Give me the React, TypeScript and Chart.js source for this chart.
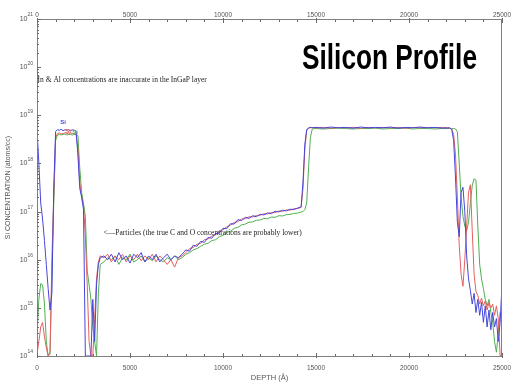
import React, { useEffect, useRef } from 'react';
import { Chart, registerables } from 'chart.js';

Chart.register(...registerables);

// Depth grid (Å)
const depth = [
  0, 100, 200, 300, 400, 500, 600, 700, 800, 900, 1000, 1100, 1200, 1300, 1400, 1500, 1600, 1700, 1800, 1900, 2000, 2100, 2200, 2300, 2400, 2500, 2600, 2700, 2800, 2900, 3000, 3100, 3200, 3300, 3400,
  3600, 3800, 4000, 4200, 4400, 4600, 4800, 5000, 5200, 5400, 5600, 5800, 6000, 6200, 6400, 6600, 6800, 7000, 7200, 7400, 7600,
  7800, 8000, 8200, 8400, 8600, 8800, 9000, 9200, 9400, 9600, 9800, 10000, 10200, 10400, 10600, 10800, 11000, 11200, 11400, 11600, 11800, 12000, 12200, 12400, 12600, 12800, 13000, 13200, 13400, 13600, 13800, 14000, 14200,
  14300, 14400, 14500, 14600, 14700, 14800, 14900,
  15000, 15400, 15800, 16200, 16600, 17000, 17400, 17800, 18200, 18600, 19000, 19400, 19800, 20200, 20600, 21000, 21400, 21800, 22200,
  22300, 22400, 22500, 22600, 22700, 22800, 22900, 23000, 23100, 23200, 23300, 23400, 23500, 23600, 23700, 23800, 23900, 24000, 24100, 24200, 24300, 24400, 24500, 24600, 24700, 24800, 24900, 25000,
];

// Si concentration (atoms/cc), three traces
const siBlue = [
  5e18, 1e18, 1.5e17, 7e16, 2.5e16, 8e15, 2.5e15, 9e14, 2e15, 3e17,
  4.6e18, 5e18, 4.9e18, 5.1e18, 4.8e18, 5e18, 4.9e18, 5e18, 4.8e18, 5e18, 4.9e18, 4.7e18,
  1.5e18, 3e17, 2e17, 1.1e17, 1e14, 1e14, 1e14, 1e14, 1.5e15, 2e14, 3e15, 8e15, 1.1e16,
  1.2e16, 1.0e16, 1.3e16, 9e15, 1.4e16, 1.0e16, 1.2e16, 8.5e15, 1.3e16, 1.1e16, 1.4e16, 9e15, 1.2e16, 1.0e16, 1.3e16, 9e15, 1.1e16, 1.3e16, 1.0e16, 1.2e16, 1.1e16,
  1.3e16, 1.6e16, 1.5e16, 2.0e16, 1.9e16, 2.4e16, 2.3e16, 2.9e16, 2.8e16, 3.5e16, 3.6e16, 4.5e16, 4.4e16, 5.6e16, 5.5e16, 6.8e16, 6.5e16, 7.6e16, 7.2e16, 8.2e16, 7.8e16, 8.8e16, 8.5e16, 9.4e16, 9.0e16, 1.02e17, 9.8e16, 1.07e17, 1.03e17, 1.12e17, 1.1e17, 1.18e17, 1.25e17,
  4e17, 2.5e18, 5e18, 5.5e18, 5.6e18, 5.5e18, 5.6e18,
  5.6e18, 5.4e18, 5.7e18, 5.5e18, 5.6e18, 5.4e18, 5.7e18, 5.5e18, 5.6e18, 5.5e18, 5.7e18, 5.4e18, 5.6e18, 5.5e18, 5.7e18, 5.5e18, 5.6e18, 5.4e18, 5.5e18,
  5e18, 3e18, 5e17, 6e16, 3e16, 2.5e17, 3.2e17, 1e17, 1.2e16, 4e15, 2.3e15, 1.2e15, 2e15, 8e14, 1.5e15, 7e14, 1.3e15, 5e14, 1.1e15, 4e14, 9e14, 3.5e14, 8e14, 4e14, 6e14, 2e14, 5e14, 3e15,
];

const siRed = [
  1.1e14, 2e14, 4e14, 5e14, 2.5e14, 1.5e14, 1e14, 1.2e14, 1e16, 2e17,
  3.5e18, 4.2e18, 4.3e18, 4.1e18, 4.2e18, 4.3e18, 4.2e18, 4.1e18, 4.3e18, 4.2e18, 4.2e18, 4.1e18,
  2e18, 4e17, 2e17, 1.3e17, 3e16, 3e15, 2e14, 1e14, 1e14, 6e14, 4e15, 9e15, 1.2e16,
  1.1e16, 1.3e16, 9e15, 1.2e16, 1.0e16, 1.3e16, 9e15, 1.2e16, 1.0e16, 1.3e16, 9.5e15, 1.2e16, 1.0e16, 1.3e16, 9e15, 1.2e16, 1.0e16, 8e15, 1.0e16, 7e15, 1.1e16,
  1.2e16, 1.4e16, 1.7e16, 1.8e16, 2.1e16, 2.2e16, 2.6e16, 2.7e16, 3.1e16, 3.3e16, 3.9e16, 4.2e16, 4.8e16, 5.2e16, 5.9e16, 6.2e16, 7.0e16, 7.1e16, 7.8e16, 7.7e16, 8.3e16, 8.4e16, 9.0e16, 8.9e16, 9.6e16, 9.5e16, 1.03e17, 1.01e17, 1.08e17, 1.07e17, 1.14e17, 1.15e17, 1.22e17,
  3e17, 2e18, 4.8e18, 5.4e18, 5.5e18, 5.6e18, 5.5e18,
  5.5e18, 5.6e18, 5.4e18, 5.6e18, 5.5e18, 5.6e18, 5.4e18, 5.6e18, 5.5e18, 5.6e18, 5.5e18, 5.6e18, 5.4e18, 5.6e18, 5.5e18, 5.6e18, 5.5e18, 5.6e18, 5.4e18,
  5.2e18, 4e18, 1.5e18, 2e17, 2e16, 5e15, 2.8e15, 1e16, 5e16, 2.5e17, 3.6e17, 4e16, 5e15, 2.2e15, 1.8e15, 1.2e15, 1.6e15, 1.1e15, 1.4e15, 9e14, 1.3e15, 1e15, 1.2e15, 7e14, 1.1e15, 6e14, 1e14, 1e14,
];

const siGreen = [
  3e14, 1.5e15, 3.2e15, 3e15, 1.2e15, 2e14, 1e14, 1.1e14, 5e15, 1.5e17,
  3e18, 3.9e18, 4e18, 3.9e18, 4e18, 4.1e18, 3.9e18, 4e18, 4e18, 3.9e18, 4e18, 4e18,
  3.8e18, 8e17, 2.5e17, 1.5e17, 8e16, 6e15, 3e15, 1.5e15, 4e14, 2e14, 1e14, 2e15, 8e15,
  9e15, 1.1e16, 1.0e16, 1.2e16, 8e15, 1.1e16, 1.0e16, 1.3e16, 9e15, 1.0e16, 1.2e16, 9e15, 1.1e16, 9.5e15, 1.2e16, 1.0e16, 9e15, 1.1e16, 1.0e16, 1.2e16, 1.0e16,
  1.1e16, 1.3e16, 1.4e16, 1.6e16, 1.7e16, 1.9e16, 2.1e16, 2.2e16, 2.5e16, 2.6e16, 3.0e16, 3.2e16, 3.7e16, 3.9e16, 4.5e16, 4.7e16, 5.3e16, 5.5e16, 6.0e16, 6.1e16, 6.6e16, 6.7e16, 7.2e16, 7.1e16, 7.7e16, 7.6e16, 8.2e16, 8.1e16, 8.6e16, 8.7e16, 9.1e16, 9.3e16, 9.8e16,
  1.0e17, 1.1e17, 1.5e17, 8e17, 3.5e18, 5.2e18, 5.3e18,
  5.3e18, 5.2e18, 5.3e18, 5.4e18, 5.3e18, 5.2e18, 5.3e18, 5.3e18, 5.4e18, 5.2e18, 5.3e18, 5.3e18, 5.4e18, 5.2e18, 5.3e18, 5.3e18, 5.2e18, 5.3e18, 5.3e18,
  5.3e18, 5.3e18, 5.2e18, 4.5e18, 1e18, 2e17, 8e16, 5e16, 4e16, 6e16, 1.5e17, 3.5e17, 4.8e17, 4.5e17, 5e16, 8e15, 4e15, 2.5e15, 1.5e15, 1.1e15, 1.5e15, 8e14, 5e14, 2e14, 1.2e14, 3e14, 8e14, 6e14,
];

const yDecades = [1e14, 1e15, 1e16, 1e17, 1e18, 1e19, 1e20, 1e21];
const yExponents = ['14', '15', '16', '17', '18', '19', '20', '21'];
const xMinorTicks = [0, 1000, 2000, 3000, 4000, 5000, 6000, 7000, 8000, 9000, 10000, 11000, 12000, 13000, 14000, 15000, 16000, 17000, 18000, 19000, 20000, 21000, 22000, 23000, 24000, 25000];

const chartTitle = 'Silicon Profile';
const noteInAl = 'In & Al concentrations are inaccurate in the InGaP layer';
const noteParticles = '<—Particles (the true C and O concentrations are probably lower)';
const seriesTag = 'Si';

const BLUE = 'rgb(70,70,220)';
const RED = 'rgb(228,95,95)';
const GREEN = 'rgb(80,175,80)';

const overlay = {
  id: 'overlay',
  afterDraw(chart: any) {
    const { ctx, chartArea: a } = chart;
    const xs = chart.scales.x;
    const ys = chart.scales.y;
    ctx.save();
    // frame
    ctx.strokeStyle = '#808080';
    ctx.lineWidth = 1;
    ctx.strokeRect(Math.round(a.left) + 0.5, Math.round(a.top) + 0.5, Math.round(a.right - a.left) - 1, Math.round(a.bottom - a.top));
    // ticks
    ctx.strokeStyle = '#6a6a6a';
    ctx.beginPath();
    for (const v of xMinorTicks) {
      const px = Math.round(xs.getPixelForValue(v)) + 0.5;
      const major = v % 5000 === 0;
      const len = major ? 3 : 2;
      ctx.moveTo(px, a.bottom + (major ? 2 : 0));
      ctx.lineTo(px, a.bottom - len);
      ctx.moveTo(px, a.top + 1 - (major ? 2 : 0));
      ctx.lineTo(px, a.top + 1 + len);
    }
    for (const d of yDecades) {
      for (let k = 1; k <= 9; k++) {
        const val = d * k;
        if (val > 1e21) break;
        const py = Math.round(ys.getPixelForValue(val)) + 0.5;
        const len = k === 1 ? 4 : 2;
        ctx.moveTo(a.left, py);
        ctx.lineTo(a.left + len, py);
      }
    }
    ctx.stroke();

    // y tick labels: 10 with raised exponent
    ctx.fillStyle = '#555';
    ctx.textBaseline = 'middle';
    yDecades.forEach((d, i) => {
      const py = ys.getPixelForValue(d);
      ctx.font = '5px "Liberation Sans"';
      ctx.textAlign = 'right';
      const expW = ctx.measureText(yExponents[i]).width;
      ctx.fillText(yExponents[i], 33, py - 4);
      ctx.font = '7px "Liberation Sans"';
      ctx.fillText('10', 33 - expW, py);
    });

    // annotations
    ctx.fillStyle = '#222';
    ctx.font = '7.5px "Liberation Serif"';
    ctx.textBaseline = 'middle';
    ctx.textAlign = 'left';
    ctx.fillText(noteInAl, xs.getPixelForValue(30), ys.getPixelForValue(5.5e19));
    ctx.fillText(noteParticles, xs.getPixelForValue(3580), ys.getPixelForValue(3.6e16));

    // series tags
    ctx.font = 'bold 6px "Liberation Sans"';
    ctx.fillStyle = BLUE;
    ctx.fillText(seriesTag, xs.getPixelForValue(1250), ys.getPixelForValue(7.2e18));
    ctx.fillStyle = RED;
    ctx.fillText(seriesTag, xs.getPixelForValue(1520), ys.getPixelForValue(4.6e18));
    ctx.fillStyle = GREEN;
    ctx.fillText(seriesTag, xs.getPixelForValue(1900), ys.getPixelForValue(4.4e18));

    // title
    ctx.fillStyle = '#000';
    ctx.font = 'bold 35px "Liberation Sans"';
    ctx.textBaseline = 'alphabetic';
    const w = ctx.measureText(chartTitle).width;
    const targetW = 175;
    ctx.translate(302, 69);
    ctx.scale(targetW / w, 1);
    ctx.fillText(chartTitle, 0, 0);
    ctx.restore();
  },
};

export default function App() {
  const ref = useRef<HTMLCanvasElement>(null);
  useEffect(() => {
    if (!ref.current) return;
    const mk = (vals: number[]) => depth.map((d, i) => ({ x: d, y: vals[i] }));
    const tickFont = { family: '"Liberation Sans"', size: 6.5 };
    const noGrid = { display: false, drawTicks: false };
    const fixX = (h: number) => (s: any) => { s.height = h; s.paddingLeft = 0; s.paddingRight = 9; };
    const chart = new Chart(ref.current, {
      type: 'line',
      data: {
        datasets: [
          { label: 'Si (blue)', data: mk(siBlue), borderColor: BLUE, borderWidth: 1, pointRadius: 0, tension: 0 },
          { label: 'Si (red)', data: mk(siRed), borderColor: RED, borderWidth: 1, pointRadius: 0, tension: 0 },
          { label: 'Si (green)', data: mk(siGreen), borderColor: GREEN, borderWidth: 1, pointRadius: 0, tension: 0 },
        ],
      },
      options: {
        responsive: false,
        animation: false,
        layout: { padding: 0 },
        plugins: { legend: { display: false }, tooltip: { enabled: false }, title: { display: false } },
        scales: {
          x: {
            type: 'linear',
            position: 'bottom',
            min: 0,
            max: 25000,
            grid: noGrid,
            border: { display: false },
            ticks: { stepSize: 5000, font: tickFont, color: '#555', padding: 8, maxRotation: 0, autoSkip: false, callback: (v: any) => String(v) },
            title: { display: true, text: 'DEPTH (Å)', font: { family: '"Liberation Sans"', size: 7.5 }, color: '#555', padding: { top: 0, bottom: 2 } },
            afterFit: fixX(28),
          },
          x2: {
            type: 'linear',
            axis: 'x',
            position: 'top',
            min: 0,
            max: 25000,
            grid: noGrid,
            border: { display: false },
            ticks: { stepSize: 5000, font: tickFont, color: '#555', padding: 0, maxRotation: 0, autoSkip: false, callback: (v: any) => String(v) },
            afterFit: fixX(19),
          },
          y: {
            type: 'logarithmic',
            min: 1e14,
            max: 1e21,
            grid: noGrid,
            border: { display: false },
            afterBuildTicks: (s: any) => { s.ticks = yDecades.map((v) => ({ value: v })); },
            ticks: {
              font: { family: '"Liberation Sans"', size: 7 },
              color: '#555',
              padding: 4,
              autoSkip: false,
              callback: () => '',
            },
            title: { display: true, text: 'Si CONCENTRATION (atoms/cc)', font: { family: '"Liberation Sans"', size: 7 }, color: '#555', padding: { top: 4, bottom: 0 } },
            afterFit: (s: any) => { s.width = 37; s.paddingTop = 0; s.paddingBottom = 0; },
          },
        },
      },
      plugins: [overlay],
    } as any);
    return () => chart.destroy();
  }, []);
  return (
    <div style={{ position: 'fixed', left: 0, top: 0, width: 511, height: 384, background: '#fff' }}>
      <canvas ref={ref} width={511} height={384} />
    </div>
  );
}
